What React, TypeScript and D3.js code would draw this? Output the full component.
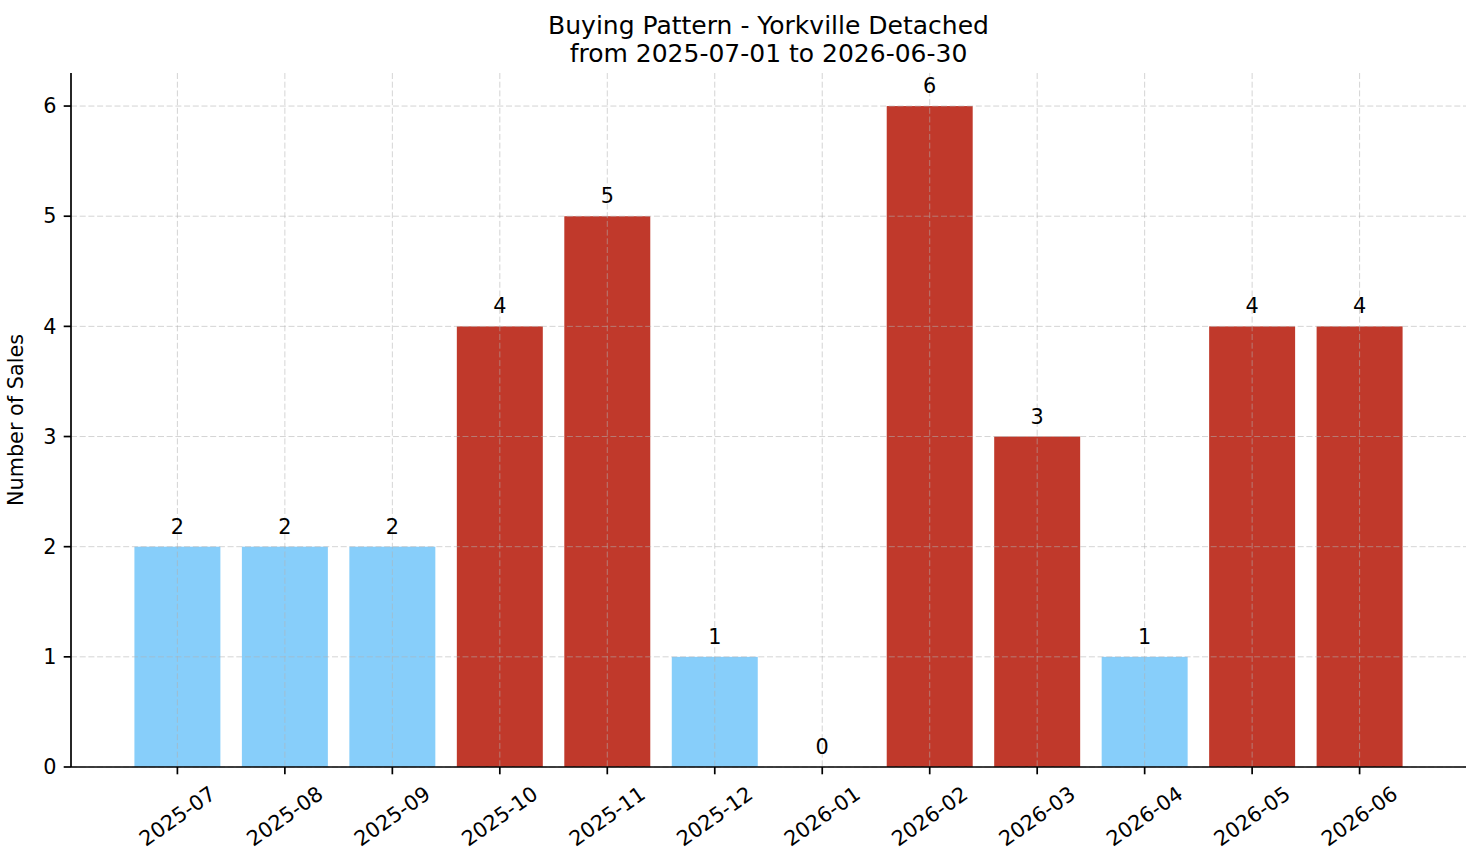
import { useEffect, useRef } from "react";
import * as d3 from "d3";

const months = [
  "2025-07", "2025-08", "2025-09", "2025-10", "2025-11", "2025-12",
  "2026-01", "2026-02", "2026-03", "2026-04", "2026-05", "2026-06",
];
const sales = [2, 2, 2, 4, 5, 1, 0, 6, 3, 1, 4, 4];
const barColors = [
  "#87CEFA", "#87CEFA", "#87CEFA", "#C0392B", "#C0392B", "#87CEFA",
  "#87CEFA", "#C0392B", "#C0392B", "#87CEFA", "#C0392B", "#C0392B",
];
const yTicks = [0, 1, 2, 3, 4, 5, 6];
const titleLines = ["Buying Pattern - Yorkville Detached", "from 2025-07-01 to 2026-06-30"];

const W = 1481;
const H = 863;
const FONT = "DejaVu Sans, sans-serif";

export default function App() {
  const svgRef = useRef<SVGSVGElement | null>(null);

  useEffect(() => {
    if (!svgRef.current) return;
    const svg = d3.select(svgRef.current);
    svg.selectAll("*").remove();

    const margin = { top: 73, right: 15, bottom: 96, left: 71 };
    const innerW = W - margin.left - margin.right;
    const innerH = H - margin.top - margin.bottom;
    const barW = 0.8;
    const n = sales.length;

    // matplotlib-style 5% margins
    const pad = (n - 1 + barW) * 0.05;
    const x = d3.scaleLinear()
      .domain([-barW / 2 - pad, n - 1 + barW / 2 + pad])
      .range([0, innerW]);
    const yMax = (d3.max(sales) || 1) * 1.05;
    const y = d3.scaleLinear().domain([0, yMax]).range([innerH, 0]);

    const g = svg.append("g").attr("transform", `translate(${margin.left},${margin.top})`);

    // bars
    g.selectAll(".bar")
      .data(sales)
      .enter()
      .append("rect")
      .attr("x", (_, i) => x(i - barW / 2))
      .attr("width", x(barW) - x(0))
      .attr("y", d => y(d))
      .attr("height", d => y(0) - y(d))
      .attr("fill", (_, i) => barColors[i]);

    // grid on top
    const grid = g.append("g").attr("stroke", "#b0b0b0").attr("stroke-opacity", 0.55)
      .attr("stroke-width", 1).attr("stroke-dasharray", "6,2.7");
    yTicks.forEach(t => {
      grid.append("line").attr("x1", 0).attr("x2", innerW).attr("y1", y(t)).attr("y2", y(t));
    });
    sales.forEach((_, i) => {
      grid.append("line").attr("x1", x(i)).attr("x2", x(i)).attr("y1", 0).attr("y2", innerH);
    });

    // value labels
    g.selectAll(".lbl")
      .data(sales)
      .enter()
      .append("text")
      .attr("x", (_, i) => x(i))
      .attr("y", d => y(d) - 13)
      .attr("text-anchor", "middle")
      .attr("font-family", FONT)
      .attr("font-size", 20.8)
      .attr("fill", "#000")
      .text(d => String(d));

    // spines
    g.append("line").attr("x1", 0).attr("x2", 0).attr("y1", 0).attr("y2", innerH)
      .attr("stroke", "#000").attr("stroke-width", 1.7);
    g.append("line").attr("x1", 0).attr("x2", innerW).attr("y1", innerH).attr("y2", innerH)
      .attr("stroke", "#000").attr("stroke-width", 1.7);

    const tickLen = 7.3;
    // y ticks
    yTicks.forEach(t => {
      g.append("line").attr("x1", -tickLen).attr("x2", 0).attr("y1", y(t)).attr("y2", y(t))
        .attr("stroke", "#000").attr("stroke-width", 1.7);
      g.append("text")
        .attr("x", -tickLen - 7.3)
        .attr("y", y(t))
        .attr("dy", "0.35em")
        .attr("text-anchor", "end")
        .attr("font-family", FONT)
        .attr("font-size", 20.8)
        .text(String(t));
    });

    // x ticks, rotated 35deg, bbox centred on tick, top aligned
    const fs = 20.8;
    const theta = 35 * Math.PI / 180;
    months.forEach((m, i) => {
      g.append("line").attr("x1", x(i)).attr("x2", x(i)).attr("y1", innerH).attr("y2", innerH + tickLen)
        .attr("stroke", "#000").attr("stroke-width", 1.7);
      const t = g.append("text")
        .attr("text-anchor", "middle")
        .attr("dominant-baseline", "central")
        .attr("font-family", FONT)
        .attr("font-size", fs)
        .text(m);
      const L = (t.node() as SVGTextElement).getComputedTextLength();
      const h = fs * 1.164;
      const bboxH = L * Math.sin(theta) + h * Math.cos(theta);
      const cy = innerH + tickLen + 7.3 + bboxH / 2;
      t.attr("transform", `translate(${x(i)},${cy}) rotate(-35)`);
    });

    // y label
    g.append("text")
      .attr("transform", `translate(${-48},${innerH / 2}) rotate(-90)`)
      .attr("text-anchor", "middle")
      .attr("font-family", FONT)
      .attr("font-size", 20.8)
      .text("Number of Sales");

    // title
    titleLines.forEach((line, i) => {
      svg.append("text")
        .attr("x", margin.left + innerW / 2)
        .attr("y", 34 + i * 28)
        .attr("text-anchor", "middle")
        .attr("font-family", FONT)
        .attr("font-size", 25)
        .text(line);
    });
  }, []);

  return (
    <svg
      ref={svgRef}
      width={W}
      height={H}
      style={{ position: "absolute", left: 0, top: 0, display: "block", background: "#fff" }}
    />
  );
}
